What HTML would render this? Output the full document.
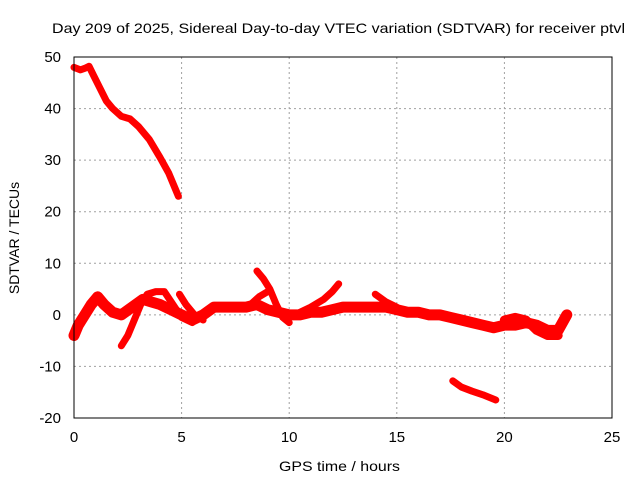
<!DOCTYPE html>
<html><head><meta charset="utf-8"><style>
body{margin:0;background:#fff;}
svg{display:block;font-family:"Liberation Sans",sans-serif;}
</style></head><body>
<svg id="chart" width="640" height="480" xmlns="http://www.w3.org/2000/svg">
<rect width="640" height="480" fill="#fff"/>
<text x="52" y="33" font-size="14" textLength="573" lengthAdjust="spacingAndGlyphs" fill="#000">Day 209 of 2025, Sidereal Day-to-day VTEC variation (SDTVAR) for receiver ptvl</text>
<text x="279" y="471" font-size="14" textLength="121" lengthAdjust="spacingAndGlyphs">GPS time / hours</text>
<text transform="translate(19,238) rotate(-90)" font-size="14" text-anchor="middle">SDTVAR / TECUs</text>
<g id="grid"></g>
<g id="series"></g>
<rect x="74" y="57" width="538" height="361" fill="none" stroke="#000" stroke-width="1"/>
<g id="ticks"></g>
</svg>
<script>
const xTicks=[0,5,10,15,20,25];
const yTicks=[-20,-10,0,10,20,30,40,50];
const s1x=[0,0.3,0.5,0.7,0.9,1.2,1.5,1.8,2.2,2.6,3,3.5,4,4.4,4.7,4.85];
const s1y=[48,47.5,47.8,48.2,46.5,44,41.5,40,38.5,38,36.5,34,30.5,27.5,24.5,23];
const s2x=[0,0.2,0.5,0.8,1.1,1.4,1.8,2.2,2.7,3.2,3.6,4,4.5,5,5.5,6,6.5,7,7.5,8,8.5,9,9.5,10,10.5,11,11.5,12,12.5,13,13.5,14,14.5,15,15.5,16,16.5,17,17.5,18,18.5,19,19.5,20,20.5,21,21.5,22,22.5,22.9];
const s2y=[-4,-2,0,2,3.5,2,0.5,0,1.5,3,2.5,2,1,0,-1,0,1.5,1.5,1.5,1.5,2,1,0.5,0,0,0.5,0.5,1,1.5,1.5,1.5,1.5,1.5,1,0.5,0.5,0,0,-0.5,-1,-1.5,-2,-2.5,-2,-2,-1.5,-2,-3,-3,0];
const s3x=[2.2,2.5,2.8,3.1,3.4,3.8,4.2,4.6,5,5.5];
const s3y=[-6,-4,-1,2,4,4.5,4.5,2,-0.5,-1.5];
const s4x=[4.9,5.2,5.6,6];
const s4y=[4,2,0,-1];
const s5x=[8.5,8.8,9.1,9.4,9.7,10];
const s5y=[8.5,7,5,2,-0.5,-1.5];
const s6x=[8.2,8.6,9];
const s6y=[2,3.5,4.5];
const s7x=[10.5,11,11.6,12,12.3];
const s7y=[0.5,1.5,3,4.5,6];
const s8x=[14,14.5,15];
const s8y=[4,2.5,1.5];
const s9x=[17.6,18,18.5,19,19.6];
const s9y=[-12.8,-14,-14.8,-15.5,-16.5];
const s10x=[20,20.5,21,21.5,22,22.5];
const s10y=[-1,-0.5,-1,-3,-4,-4];
const allSeries=[[s1x,s1y],[s2x,s2y],[s3x,s3y],[s4x,s4y],[s5x,s5y],[s6x,s6y],[s7x,s7y],[s8x,s8y],[s9x,s9y],[s10x,s10y]];
const widths=[7,11,7,7,7,7,7,7,7,9];
const NS="http://www.w3.org/2000/svg";
const X=v=>74+v*(538/25);
const Y=v=>418-(v+20)*(361/70);
const grid=document.getElementById('grid'),ticks=document.getElementById('ticks'),ser=document.getElementById('series');
function mk(tag,attrs,parent){const e=document.createElementNS(NS,tag);for(const k in attrs)e.setAttribute(k,attrs[k]);parent.appendChild(e);return e;}
xTicks.forEach(t=>{
  if(t>0&&t<25){const g=mk('line',{x1:X(t),x2:X(t),y1:57,y2:418,stroke:'#a0a0a0','stroke-dasharray':'2,3'},grid);
  
  }
  const l=mk('text',{x:X(t),y:442,'font-size':15,'text-anchor':'middle'},ticks);l.textContent=t;
  
  
});
yTicks.forEach(t=>{
  if(t>-20&&t<50){const g=mk('line',{x1:74,x2:612,y1:Y(t),y2:Y(t),stroke:'#a0a0a0','stroke-dasharray':'2,3'},grid);
  
  }
  const l=mk('text',{x:61,y:Y(t)+5,'font-size':15,'text-anchor':'end'},ticks);l.textContent=t;
  
  
});
allSeries.forEach(([xs,ys],i)=>{
  const pts=xs.map((x,j)=>X(x)+','+Y(ys[j])).join(' ');
  const p=mk('polyline',{points:pts,fill:'none',stroke:'#ff0000','stroke-width':widths[i],'stroke-linejoin':'round','stroke-linecap':'round'},ser);
  
  
});
</script>
</body></html>
